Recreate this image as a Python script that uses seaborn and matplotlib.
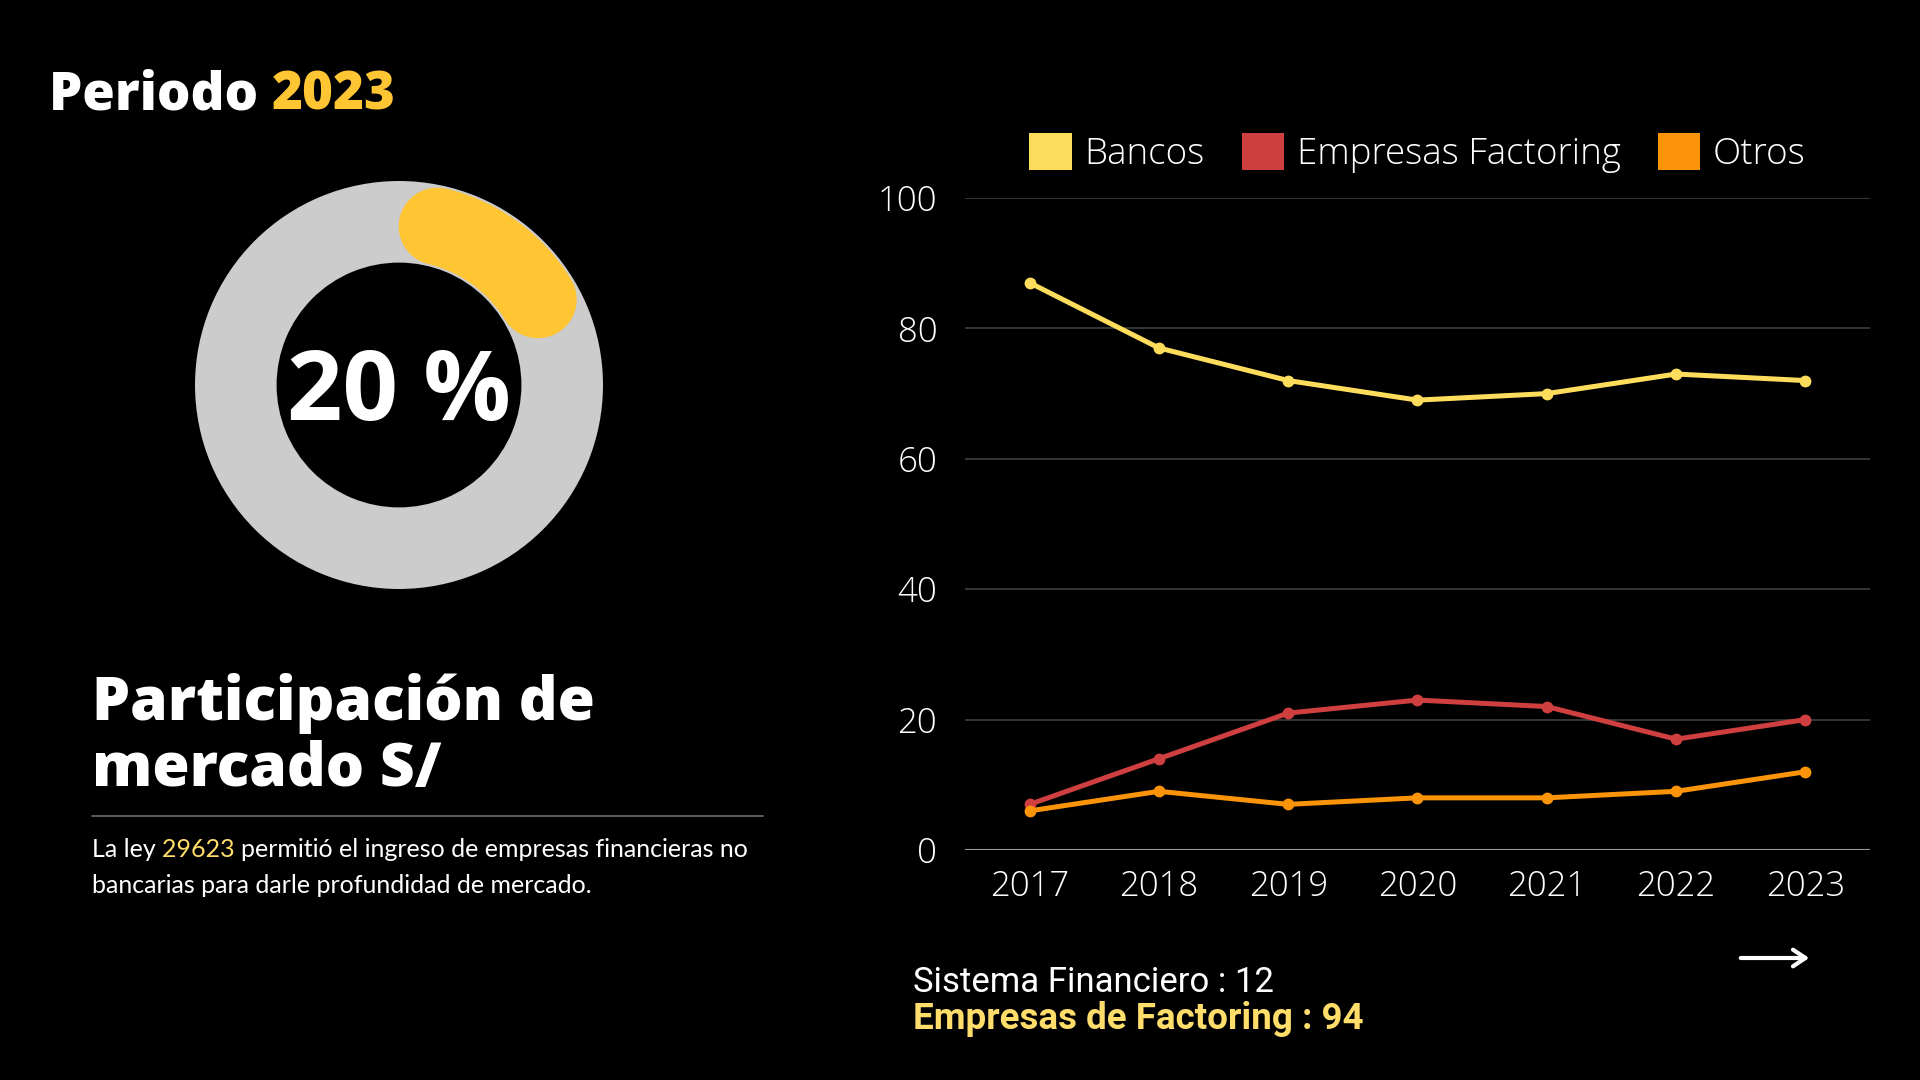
import matplotlib
matplotlib.use("Agg")
import numpy as np
import pandas as pd
import seaborn as sns
import matplotlib.pyplot as plt
from matplotlib.patches import Patch
from matplotlib.lines import Line2D

# ------------------------------- data -------------------------------
years = [2017, 2018, 2019, 2020, 2021, 2022, 2023]
bancos = [87, 77, 72, 69, 70, 73, 72]
factoring = [7, 14, 21, 23, 22, 17, 20]
otros = [6, 9, 7, 8, 8, 9, 12]
series_names = ["Bancos", "Empresas Factoring", "Otros"]
series_colors = ["#FFDD5C", "#CF3F3F", "#FB9408"]

share_2023 = 20          # participacion de mercado (%)
periodo = "2023"
ley = "29623"
sistema_financiero = 12
empresas_factoring = 94

df = pd.DataFrame({
    "year": years * 3,
    "valor": bancos + factoring + otros,
    "serie": [n for n in series_names for _ in years],
})

# ------------------------------- setup -------------------------------
sns.set_theme(style="dark")
plt.rcParams["font.family"] = ["Open Sans", "DejaVu Sans"]

W, H = 1920, 1080
fig = plt.figure(figsize=(19.2, 10.8), dpi=100, facecolor="black")
YELLOW = "#FFC532"
LIGHT_YELLOW = "#FFDD6B"


def fx(px):
    return px / W


def fy(py):
    return 1 - py / H


def multi_color(x_px, y_px, parts, **kw):
    # each piece starts at the right edge of the one before it
    txt, col = parts[0]
    prev = fig.text(fx(x_px), fy(y_px), txt, color=col, va="baseline", ha="left", **kw)
    for txt, col in parts[1:]:
        prev = fig.add_artist(plt.Annotation(txt, xy=(1, fy(y_px)), xycoords=(prev, "figure fraction"),
                                             color=col, va="baseline", ha="left", **kw))


# ------------------------------- line chart -------------------------------
ax = fig.add_axes([fx(965), fy(850), (1870 - 965) / W, (850 - 198) / H])
ax.set_facecolor("black")
sns.lineplot(data=df, x="year", y="valor", hue="serie", palette=series_colors,
             marker="o", markersize=8.5, markeredgewidth=0, linewidth=3.6,
             ax=ax, legend=False, clip_on=False)
for sp in ax.spines.values():
    sp.set_visible(False)
ax.set_xlim(years[0] - 0.5, years[-1] + 0.5)
ax.set_ylim(0, 100)
ax.set_yticks(range(0, 101, 20))
ax.set_xticks(years)
ax.grid(axis="y", color="#3a3a3a", linewidth=1.3)
ax.grid(axis="x", visible=False)
ax.axhline(0, color="#9a9a9a", linewidth=1.5, zorder=1)
ax.tick_params(axis="y", colors="white", labelsize=25, length=0, pad=20)
ax.tick_params(axis="x", colors="white", labelsize=25, length=0, pad=14)
for lab in ax.get_xticklabels() + ax.get_yticklabels():
    lab.set_fontweight("light")
ax.set_xlabel("")
ax.set_ylabel("")

handles = [Patch(facecolor=c, edgecolor="none", label=n) for n, c in zip(series_names, series_colors)]
leg = ax.legend(handles=handles, loc="center", bbox_to_anchor=(0.5, 1 + 45 / 652), ncol=3,
                frameon=False, fontsize=26.5, labelcolor="white", handlelength=1.15,
                handleheight=1.15, handletextpad=0.35, columnspacing=1.0)
for t in leg.get_texts():
    t.set_fontweight("light")

# ------------------------------- donut -------------------------------
cx, cy, R = 399, 385, 204
half = 220
ax2 = fig.add_axes([fx(cx - half), fy(cy + half), 2 * half / W, 2 * half / H])
ax2.set_facecolor("black")
ax2.pie([100], colors=["#CCCCCC"], radius=1, startangle=90,
        wedgeprops=dict(width=0.4, linewidth=0))
r_arc, lw_data = 0.8, 0.38
cap_deg = np.degrees((lw_data / 2) / r_arc)
start = cap_deg
end = share_2023 * 3.6 - cap_deg
theta = np.radians(np.linspace(start, end, 100))
ax2.plot(r_arc * np.sin(theta), r_arc * np.cos(theta), color=YELLOW,
         linewidth=lw_data * R * 72 / 100, solid_capstyle="round")
ax2.set_xlim(-half / R, half / R)
ax2.set_ylim(-half / R, half / R)
ax2.axis("off")
ax2.text(0, -0.045, f"{share_2023} %", ha="center", va="center", color="white",
         fontsize=70, fontweight="bold")

# ------------------------------- texts -------------------------------
multi_color(49, 110, [("Periodo ", "white"), (periodo, YELLOW)],
            fontsize=38, fontweight="heavy")

fig.text(fx(92), fy(720), "Participación de", color="white", fontsize=43.5,
         fontweight="heavy", va="baseline")
fig.text(fx(92), fy(786), "mercado S/", color="white", fontsize=43.5,
         fontweight="heavy", va="baseline")
fig.add_artist(Line2D([fx(92), fx(763)], [fy(816), fy(816)], color="#6f6f66", linewidth=1.2))

body_kw = dict(fontsize=18, fontweight="normal", family=["Lato", "DejaVu Sans"])
multi_color(92, 857, [("La ley ", "white"), (ley + " ", LIGHT_YELLOW),
                      ("permitió el ingreso de empresas financieras no", "white")], **body_kw)
fig.text(fx(92), fy(893), "bancarias para darle profundidad de mercado.", color="white",
         va="baseline", **body_kw)

fig.text(fx(913), fy(992), f"Sistema Financiero : {sistema_financiero}", color="white",
         fontsize=25, family=["Roboto", "DejaVu Sans"], va="baseline")
fig.text(fx(913), fy(1029), f"Empresas de Factoring : {empresas_factoring}", color=LIGHT_YELLOW,
         fontsize=26.5, fontweight="bold", family=["Roboto", "DejaVu Sans"], va="baseline")

fig.add_artist(plt.Annotation("", xy=(1812, H - 958), xytext=(1738, H - 958),
                              xycoords="figure pixels", textcoords="figure pixels",
                              arrowprops=dict(arrowstyle="->,head_length=0.75,head_width=0.5",
                                              color="white", lw=3)))

fig.savefig("out.png", dpi=100, facecolor="black")
